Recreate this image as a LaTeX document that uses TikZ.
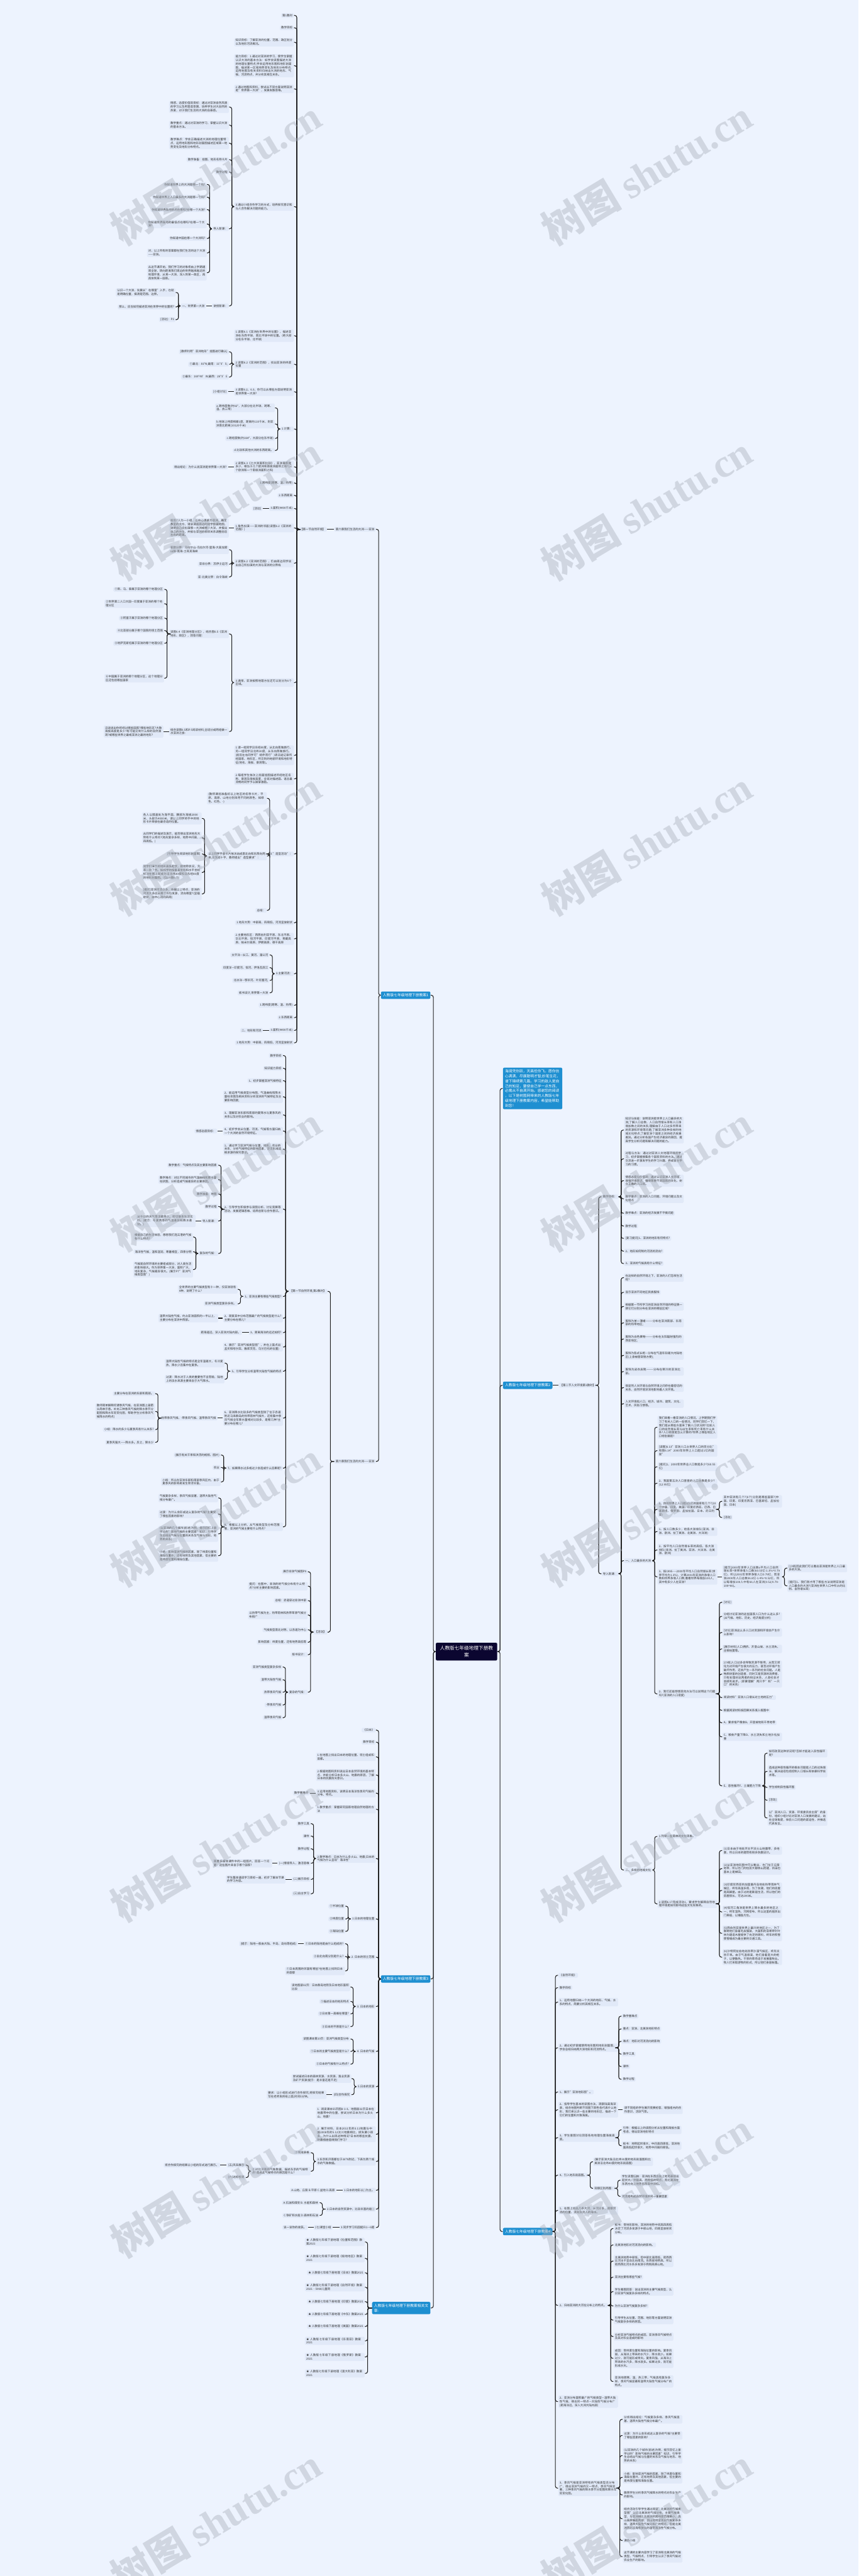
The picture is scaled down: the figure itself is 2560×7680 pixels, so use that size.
\documentclass[tikz,border=0pt]{standalone}
\usepackage{fontspec}
\setmainfont{Noto Sans CJK SC}
\newfontfamily\wmlatin{Liberation Serif}
\XeTeXlinebreaklocale "zh"
\XeTeXlinebreakskip=0pt plus 0.4pt
\definecolor{bgc}{HTML}{EDF3FE}
\definecolor{boxc}{HTML}{E1E9F8}
\definecolor{inkc}{HTML}{333333}
\definecolor{linec}{HTML}{1F1F1F}
\definecolor{bluec}{HTML}{1E8FD1}
\definecolor{navyc}{HTML}{0B0630}
\definecolor{wmc}{HTML}{A9B0BB}
\newcommand\leaffont{\fontsize{2.4pt}{3.12pt}\selectfont}
\newcommand\bluefont{\fontsize{3.07pt}{4.15pt}\selectfont}
\newcommand\rootfont{\fontsize{4.1pt}{5.7pt}\selectfont}

\begin{document}
\begin{tikzpicture}[x=0.1mm,y=-0.1mm,
  leaf/.style={fill=boxc,text=inkc,rounded corners=0.3mm,inner xsep=0.4mm,inner ysep=0.3mm,font=\leaffont,align=left},
  lng/.style={text width=17mm},
  ln/.style={leaf,anchor=east},
  rn/.style={leaf,anchor=west},
  branch/.style={fill=bluec,text=white,rounded corners=0.4mm,inner sep=0.6mm,font=\bluefont,align=left},
  link/.style={draw=linec,line width=0.2mm,rounded corners=0.6mm},
  wm/.style={text=wmc,opacity=0.42,rotate=31,font=\bfseries\fontsize{34pt}{34pt}\selectfont}]
\useasboundingbox (0,0) rectangle (2560,7680);
\fill[bgc] (0,0) rectangle (2560,7680);

% root
\node[fill=navyc,text=white,rounded corners=0.4mm,font=\rootfont,align=center,minimum width=18.3mm,minimum height=5.3mm,inner sep=0.8mm] (root) at (1391,4924) {人教版七年级地理下册教\\案};

% ---------- left side ----------
\node[branch,anchor=east] (k1) at (1284,2967) {人教版七年级地理下册教案1};
\node[branch,anchor=east] (k3) at (1284,5900) {人教版七年级地理下册教案3};
\node[branch,anchor=east] (kr) at (1284,6881) {人教版七年级地理下册教案相关文\\章:};

\node[ln] (c1) at (1121,1578) {第六章我们生活的大洲——亚洲};
\node[ln] (c2) at (1121,4357) {第六章我们生活的大洲——亚洲};
\node[ln] (s1) at (975,1578) {【第一节自然环境】};

\node[ln] (a1) at (877,46) {第1教时};
\node[ln] (a2) at (877,83) {教学目标};
\node[ln,lng] (a3) at (877,126) {知识目标：了解亚洲的位置、范围、政区划分以及地形河流概况。};
\node[ln,lng] (a4) at (877,196) {能力目标：1.通过对亚洲的学习，使学生掌握认识大洲的基本方法：如学会读图描述大洲的地理位置特点;学会运用地形图和地形剖面图，描述某一区域地势变化及地形分布特点;运用地图及有关资料归纳出大洲的地形、气候、河流特点，并分析其相互关系。};
\node[ln,lng] (a5) at (877,265) {2.通过地图和资料，尝试从不同方面说明亚洲是"世界第一大洲"，发展发散思维。};
\node[ln,lng] (a6) at (877,616) {3.通过小组合作学习的方式，培养探究意识和与人合作解决问题的能力。};
\node[ln,lng] (a7) at (877,1001) {1.读图6.1《亚洲在世界中的位置》，描述亚洲在东西半球、南北半球中的位置。(绝大部分在东半球、北半球)};
\node[ln,lng] (a8) at (877,1086) {2.读图6.2《亚洲的范围》，找出亚洲的纬度位置};
\node[ln,lng] (a9) at (877,1168) {3.读图6.2、6.3，你可以从哪些方面说明亚洲是世界第一大洲?};
\node[ln] (a10) at (877,1279) {1.计算：};
\node[ln,lng] (a11) at (877,1392) {2.读图6.3《七大洲面积比较》，亚洲面积是多少，相当于几个欧洲和南极洲面积之和?(三个欧洲和一个南极洲面积之和)};
\node[ln] (a12) at (877,1440) {1.跨纬度(跨寒、温、热带)};
\node[ln] (a13) at (877,1477) {2.东西距离};
\node[ln] (a14) at (877,1516) {3.面积(4400千米)};
\node[ln,lng] (a15) at (877,1574) {1.角色扮演——亚洲的邻居(读图6.2《亚洲的范围》)};
\node[ln,lng] (a16) at (877,1679) {2.读图6.2《亚洲的范围》，仍由周边同学说出自己所扮演的大洲与亚洲的分界线};
\node[ln,lng] (a17) at (877,2035) {3.通常，亚洲按照地理方位还可以划分为6个区域。};
\node[ln,lng] (a18) at (877,2252) {1.请一组同学沿东经80度，从北向南做旅行，另一组同学沿北纬30度，从东向西做旅行。(前后左右同学可"结伴而行")请沿途记录所经国家、地形区，所见到的地貌环境和地形特征(地名、海拔、景观等)。};
\node[ln,lng] (a19) at (877,2322) {2.每组学生依次上前面挂图描述所经地区名称、景观及海拔高度，全班对描述面、语言最流畅的同学予以鼓掌激励。};
\node[ln] (a20) at (877,2546) {3."造型活动"：};
\node[ln] (a21) at (877,2751) {1.地形大势：中部高，四周低，河流呈放射状};
\node[ln,lng] (a22) at (877,2799) {2.主要地形区：西西伯利亚平原、东北平原、华北平原、恒河平原、印度河平原、青藏高原、帕米尔高原、伊朗高原、德干高原};
\node[ln] (a23) at (877,2903) {3.主要河流：};
\node[ln] (a24) at (877,2997) {1.跨纬度(跨寒、温、热带)};
\node[ln] (a25) at (877,3034) {2.东西距离};
\node[ln] (a26) at (877,3072) {3.面积(4400千米)};
\node[ln] (a27) at (877,3109) {1.地形大势：中部高，四周低，河流呈放射状};

\node[ln,lng] (b1) at (683,319) {情感、态度价值观目标：通过对亚洲自然风貌的学习以及用营造氛围，培养学生对大自然的热爱，对于我们生活的大洲的自豪感。};
\node[ln,lng] (b2) at (683,373) {教学重点：通过对亚洲的学习，掌握认识大洲的基本方法。};
\node[ln,lng] (b3) at (683,427) {教学难点：学会正确描述大洲的地理位置特点，运用地形图和地形剖面图描述区域某一地势变化及地形分布特点。};
\node[ln] (b4) at (683,476) {教学准备：挂图、地形名称卡片};
\node[ln] (b5) at (683,513) {教学过程};
\node[ln] (b6) at (683,682) {导入新课：};
\node[ln] (b7) at (683,912) {讲授新课：};

\node[ln] (d1) at (617,550) {你知道世界上的大洲是哪一个吗?};
\node[ln] (d2) at (617,588) {你知道世界上人口最多的大洲是哪一个吗?};
\node[ln] (d3) at (617,625) {你知道世界陆地的点在哪吗?在哪一个大洲?};
\node[ln,lng] (d4) at (617,668) {你知道世界陆地的最低点在哪吗?在哪一个大洲?};
\node[ln] (d5) at (617,711) {你知道中国在哪一个大洲吗?};
\node[ln,lng] (d6) at (617,754) {对，以上所有的答案都在我们生活的这个大洲——亚洲。};
\node[ln,lng] (d7) at (617,813) {从这节课开始，我们学习的对象将由上学期通观全球，转向距离我们周边的世界越来越近的地理环境，从某一大洲，深入到某一政区，再具体到某一国家。};

\node[ln] (e1) at (615,912) {一、世界第一大洲};
\node[ln,lng] (f1) at (524,872) {认识一个大洲，先要从"在哪里"入手，也就是明确位置，搞清楚范围、边界。};
\node[ln] (f2) at (524,915) {那么，应当如何描述亚洲在世界中的位置呢?};
\node[ln] (f3) at (524,953) {[活动]：P3};

\node[ln] (g1) at (683,1049) {[教师利用"亚洲地形"挂图进行确认]};
\node[ln] (g2) at (683,1086) {①最北：81°N;最南：11°3'S;};
\node[ln] (g3) at (683,1124) {②最东：169°40'W;最西：26°3'E};
\node[ln] (g4) at (680,1168) {[小组讨论]};
\node[ln] (g5) at (680,1392) {得出结论：为什么说亚洲是世界第一大洲?};
\node[ln] (g6) at (783,1516) {[活动]};
\node[ln,lng] (g7) at (683,1574) {前后7人为一小组，以中心课桌为亚洲，确定教室的北方，请该课桌周边的同学依据地图，说明自己应扮演哪一大洲或哪一大洋，并报出自己的方位，并按与亚洲的相邻关系调整前后左右的距离。};
\node[ln,lng] (g8) at (683,1639) {亚欧分界：乌拉尔山-乌拉尔河-里海-大高加索山脉-黑海-土耳其海峡};
\node[ln] (g9) at (683,1682) {亚非分界：苏伊士运河};
\node[ln] (g10) at (683,1720) {亚-北美分界：白令海峡};

\node[ln,lng] (h1) at (820,1216) {a.跨纬度数(约92°，大部分在北半球，跨寒、温、热三带)};
\node[ln,lng] (h2) at (820,1264) {b.地球上纬度相差1度，距离约110千米，则亚洲南北距离(10120千米)};
\node[ln] (h3) at (820,1307) {c.跨经度数(约164°，大部分在东半球)};
\node[ln] (h4) at (820,1343) {d.比较和其他大洲的东西距离。};

\node[ln,lng] (i1) at (683,1890) {读图6.4《亚洲地理分区》，结合图6.5《亚洲地形、政区》，回答问题：};
\node[ln,lng] (i2) at (683,2181) {结合读图6.5和P.5阅读材料,全班分成两组做一次亚洲之旅：};
\node[ln] (j1) at (490,1757) {①新、马、泰属于亚洲的哪个地理分区};
\node[ln,lng] (j2) at (490,1800) {②世界第二人口大国—印度属于亚洲的哪个地理分区};
\node[ln] (j3) at (490,1843) {③阿富汗属于亚洲的哪个地理分区};
\node[ln] (j4) at (490,1880) {④北亚部分属于哪个国家的领土范围};
\node[ln] (j5) at (490,1918) {⑤哈萨克斯坦属于亚洲的哪个地理分区};
\node[ln,lng] (j6) at (490,2022) {⑥中国属于亚洲的哪个地理分区，这个地理分区还包括哪些国家};
\node[ln,lng] (j7) at (488,2181) {沿途说出你将经过哪些国家?哪些地形区?大致海拔高度是多少?有可能见到什么样的自然景观?或哪些世界之最或亚洲之最的地形?};

\node[ln,lng] (l1) at (796,2380) {(教师课前准备好以上地区的名称卡片，平原、高原、山地分别采用不同的颜色，如绿色、红色、-)};
\node[ln,lng] (l2) at (796,2552) {以上同学手拿卡片依次站成南北向和东西向两排,交叉成十字，教师提出"造型要求"：};
\node[ln] (l3) at (796,2714) {总结：};
\node[ln,lng] (m1) at (602,2440) {各人以膝盖处为海平面，腰部为海拔2000米，头部为4000米，请以上同学将手中的地形卡片举放在最合适的位置。};
\node[ln,lng] (m2) at (602,2498) {从同学们的描述及演示，能否得出亚洲地形大势有什么特点?(地形复杂多样，地势中间高，四周低。)};
\node[ln] (m3) at (602,2546) {[引导学生阅读地形剖面图]};
\node[ln,lng] (m4) at (602,2601) {同学们演示的地形高低起伏，即地势状况，大家一目了然。如和学的按垂直坐标和水平坐标标注在图上就成为沿北纬30度和沿东经80度的地形剖面图。(见p.6图6.7)};
\node[ln,lng] (m5) at (602,2665) {[提问]亚洲河流众多，依据以上特点，亚洲的河流大多应从哪个方位发源，流向哪里?(呈辐射状，由中心流向四周)};

\node[ln] (n1) at (804,2847) {太平洋—长江、黄河、湄公河};
\node[ln] (n2) at (804,2885) {印度洋—印度河、恒河、伊洛瓦底江};
\node[ln] (n3) at (804,2923) {北冰洋—鄂毕河、叶尼塞河,};
\node[ln] (n4) at (804,2960) {板书设计,世界第一大洲};
\node[ln] (n5) at (784,3072) {二、地形和河流};

% second chapter node
\node[ln] (s2) at (977,3850) {【第一节自然环境,第2教时】};
\node[ln] (s3) at (977,4866) {【活动】};

\node[ln] (p1) at (844,3147) {教学目标};
\node[ln] (p2) at (844,3185) {知识能力目标};
\node[ln] (p3) at (844,3222) {1、初步掌握亚洲气候特征};
\node[ln,lng] (p4) at (844,3270) {2、能运用气候类型分布图，气温曲线和降水量柱状图及相关资料分析亚洲的气候特征及主要影响因素;};
\node[ln,lng] (p5) at (844,3324) {3、理解亚洲东部和南部的夏降水与夏季风的关系以及对农业的影响。};
\node[ln,lng] (p6) at (844,3372) {4、初步学会从位置、河流、气候等方面归纳一个大洲的自然环境特征。};
\node[ln,lng] (p7) at (844,3426) {1、通过学习亚洲气候与位置、地形、农业的关系，分析气候特征的影响因素，足见形成追根求源的探究意识。};
\node[ln,lng] (p8) at (844,3605) {2、引导学生积极参与读图分析、讨论竞赛等活动，发展逻辑思维、培养创新与合作意识。};
\node[ln] (p9) at (844,3865) {1、亚洲主要有哪些气候类型?};
\node[ln,lng] (p10) at (844,3930) {2、观察其中分布范围最广的气候类型是什么?主要分布在哪儿?};
\node[ln] (p11) at (844,3973) {3、距离海洋的远近如何?};
\node[ln,lng] (p12) at (844,4016) {4、展示"亚洲气候类型图"，并在上面点出孟买和哈尔宾、雅库茨克、乌兰巴托的位置)};
\node[ln] (p13) at (844,4088) {5、引导学生分析温带大陆性气候的特点};
\node[ln,lng] (p14) at (844,4228) {6、亚洲降水比较多的气候类型除了位于赤道附近马来群岛的热带雨林气候外，还有集中季风气候全年降水量相对比较多，是哪几种?主要分布在哪儿?};
\node[ln] (p15) at (844,4377) {7、如果降水过多或过少会造成什么后果呢?};
\node[ln,lng] (p16) at (844,4552) {8、根据以上分析，从气候类型及分布范围看，亚洲的气候主要有什么特点?};

\node[ln] (q1) at (648,3372) {情感态度目标：};
\node[ln] (q2) at (651,3474) {教学重点：气候特点及其主要影响因素};
\node[ln,lng] (q3) at (651,3517) {教学难点：对比不同城市的气温曲线和降水量柱状图，分析造成气候差异的主要原因。};
\node[ln] (q4) at (651,3560) {教学准备：地图};
\node[ln] (q5) at (651,3597) {教学过程};
\node[ln] (q6) at (651,3640) {导入新课：};
\node[ln] (q7) at (651,3737) {复杂的气候：};
\node[ln,lng] (q8) at (584,3640) {从今日的天气等话题导入，密切联系生活实际。(提示：冬夏两季的气温差异和降水差别。)};
\node[ln,lng] (q9) at (576,3688) {根据自己的生活体验，想想我们连云港的气候有什么特点?};
\node[ln] (q10) at (576,3732) {海洋性气候，温和湿润，寒暑相宜，四季分明};
\node[ln,lng] (q11) at (576,3785) {气候是自然环境的主要组成部分，对人类生活的影响很大。作为世界第一大洲，面积广大，地形复杂，气候差异很大。(展示P7"亚洲气候类型图")};

\node[ln,lng] (r1) at (709,3844) {全世界的主要气候类型有十一种，仅亚洲就有9种，说明了什么?};
\node[ln] (r2) at (709,3887) {亚洲气候类型复杂多样。};
\node[ln,lng] (r3) at (651,3930) {温带大陆性气候，约占亚洲面积的一半以上，主要分布在亚洲中西部。};
\node[ln] (r4) at (722,3973) {距海遥远，深入亚洲大陆内部。};
\node[ln,lng] (r5) at (670,4064) {温带大陆性气候的特点是全年温差大，冬冷夏热，降水少且集中在夏季。};
\node[ln,lng] (r6) at (670,4112) {过渡：降水对于人类的重要性不言而喻，陆地上的淡水来源主要来自于大气降水。};
\node[ln] (r7) at (649,4228) {热带季风气候、-带季风气候、温带季风气候};
\node[ln] (r8) at (463,4155) {主要分布在亚洲的东部和南部。};
\node[ln,lng] (r9) at (463,4208) {教师简单解释何谓季风气候，在亚洲图上画箭头简单示意。补充三种季风气候的降水季节分配图和降水年际变化图，帮助学生分析季风气候降水的特点)};
\node[ln] (r10) at (463,4262) {小结：降水的多少与夏季风有什么关系?};
\node[ln] (r11) at (463,4300) {夏季风强大——降水多。反之，降水少};
\node[ln] (r12) at (659,4338) {(展示有关干旱和洪涝的视频、图片)};
\node[ln] (r13) at (659,4375) {农业};
\node[ln,lng] (r14) at (659,4418) {小结：所以在亚洲东部和南部季风区内，由于夏季风的影响易发生旱涝灾害。};
\node[ln,lng] (r15) at (651,4466) {气候复杂多样，季风气候显著，温带大陆性气候分布最广。};
\node[ln,lng] (r16) at (651,4514) {过渡：为什么会形成这么复杂的气候?主要受了哪些因素的影响?};
\node[ln,lng] (r17) at (651,4573) {(以亚洲的几个城市(前述)为例，提示回忆上册学过的"影响气候的主要因素"知识，引导学生总结出气候与位置的关系及气候与地形、地势的关系)};
\node[ln,lng] (r18) at (651,4638) {小结：影响亚洲气候的因素，除了纬度位置和海陆位置外，还有地势及其他因素，但主要的是纬度位置和海陆位置。};

\node[ln] (t1) at (918,4686) {展示非洲气候图P9};
\node[ln,lng] (t2) at (918,4729) {提问：在图中，非洲的的气候分布有什么特点?分析主要的影响因素。};
\node[ln] (t3) at (918,4772) {总结：赤道穿过非洲中部};
\node[ln,lng] (t4) at (918,4815) {以热带气候为主，热带雨林和热带草原气候分布很广};
\node[ln] (t5) at (918,4859) {气候类型南北对称，以赤道为中心};
\node[ln] (t6) at (918,4896) {影响因素：纬度位置，还有地势高低等};
\node[ln] (t7) at (918,4933) {板书设计：};
\node[ln] (t8) at (918,5045) {复杂的气候：};
\node[ln] (u1) at (843,4970) {亚洲气候类型复杂多样};
\node[ln] (u2) at (843,5008) {温带大陆性气候};
\node[ln] (u3) at (843,5045) {热带季风气候};
\node[ln] (u4) at (843,5083) {-带季风气候};
\node[ln] (u5) at (843,5121) {温带季风气候};

% third branch
\node[ln] (v1) at (1121,5158) {《日本》};
\node[ln] (v2) at (1121,5194) {教学目标};
\node[ln,lng] (v3) at (1121,5238) {1.在地图上找出日本的地理位置、领土组成和首都。};
\node[ln,lng] (v4) at (1121,5292) {2.根据地图和资料说出日本自然环境的基本特点，并能分析日本多火山、地震的原因，了解日本的抗震防灾意识。};
\node[ln,lng] (v5) at (1121,5346) {3.运用地图资料，说明日本海洋性季风气候的分布、特点。};
\node[ln,lng] (v6) at (1121,5394) {1.教学重点：掌握研究国家地理自然地理的方法};
\node[ln,lng] (v7) at (1121,5541) {2.教学难点：日本为什么多火山、地震;日本的气候为什么呈现"海洋性"};
\node[ln] (v8) at (1121,5721) {1.日本的地理位置};
\node[ln] (v9) at (1121,5835) {2. 日本的领土范围};
\node[ln] (v10) at (1121,5982) {3. 日本的地形};
\node[ln] (v11) at (1121,6116) {4. 日本的气候};
\node[ln] (v12) at (1121,6221) {5.日本的资源};
\node[ln,lng] (v13) at (1121,6299) {1. 阅读课本55页图8-1-3、地图册32页日本在地震带中的位置，尝试分析日本为什么多火山、地震?};
\node[ln,lng] (v14) at (1121,6363) {2. 展示材料，日本2011年的3.11地震与中国2008年的5.12汶川地震相比，损失要小很多，为什么出现这种情况?日本的哪些抗震、防震措施值得我们学习?};
\node[ln,lng] (v15) at (1121,6444) {3.东京和济南都位于36°N附近，下表为两个城市的气象数据。};
\node[ln] (v16) at (1121,6530) {1.日本的地形以( )为主。};
\node[ln] (v17) at (1121,6586) {2.日本的自然资源中，比较丰富的是( )};
\node[ln] (v18) at (1121,6641) {3.同步学习巩固提升1—6题};

\node[ln] (w1) at (924,5346) {教学重难点};
\node[ln] (w2) at (927,5437) {教学工具};
\node[ln] (w3) at (927,5474) {课件};
\node[ln] (w4) at (927,5512) {教学过程};
\node[ln] (w5) at (927,5555) {(一)情境导入，激活思维};
\node[ln] (w6) at (927,5603) {(二)展示目标};
\node[ln] (w7) at (927,5646) {(三)自主学习};
\node[ln,lng] (w8) at (812,5555) {观看多媒体课件中的一组图片，回答一个问题：这些图片来自于哪个国家?};
\node[ln,lng] (w9) at (852,5603) {学生集体诵读学习目标一遍，初步了解本节课的学习内容。};

\node[ln] (x1) at (1030,5683) {①半球位置};
\node[ln] (x2) at (1030,5721) {②纬度位置};
\node[ln] (x3) at (1030,5758) {③海陆位置};
\node[ln] (x4) at (1029,5795) {①日本的陆地是由什么组成的?};
\node[ln] (x5) at (1029,5833) {②自北向南分别是什么?};
\node[ln,lng] (x6) at (1029,5876) {①日本周围的邻国有哪些?在地图上找到日本的首都};
\node[ln] (x7) at (888,5795) {(提示：陆地一般由大陆、半岛、岛屿等组成)};
\node[ln,lng] (x8) at (1045,5924) {读地图册32页：日本群岛地势及日本地形面积比较};
\node[ln] (x9) at (1045,5967) {①描述日本的地形特点};
\node[ln] (x10) at (1045,6004) {②日本第一高峰在哪里?};
\node[ln] (x11) at (1045,6042) {③日本的平原是什么?};
\node[ln] (x12) at (1045,6079) {读图课本第10页：亚洲气候类型分布};
\node[ln] (x13) at (1045,6116) {①日本的主要气候类型是什么?};
\node[ln] (x14) at (1045,6154) {②日本的气候有什么特点?};
\node[ln,lng] (x15) at (1048,6197) {尝试描述日本的森林资源、水资源、渔业资源及矿产资源(提示：是丰富还是不足)};
\node[ln] (x16) at (1048,6245) {(四)合作探究};
\node[ln,lng] (x17) at (974,6245) {要求：以小组形式进行合作探究;将探究结果写在老师发的纸上面;时间5分钟。};

\node[ln] (y1) at (927,6418) {①完成表格};
\node[ln,lng] (y2) at (927,6473) {②对比济南的气象数据，描述东京的气候特点?造成此气候特点的原因是什么?};
\node[ln] (y3) at (733,6455) {(五)风采展示};
\node[ln] (y4) at (733,6492) {(六)达标检测};
\node[ln] (y5) at (657,6455) {将合作探究的结果以小组的形式进行展示。};
\node[ln] (y6) at (1003,6530) {A.山地、丘陵 B.平原 C.盆地 D.高原};
\node[ln] (y7) at (953,6567) {A.石油和煤炭 B. 水能和森林};
\node[ln] (y8) at (953,6605) {C.铁矿和水能 D.森林和石油};
\node[ln] (y9) at (992,6641) {(七)课堂小结};
\node[ln] (y10) at (918,6641) {谈一谈你的收获。};

\node[ln,lng] (z1) at (1088,6684) {★ 人教版七年级下册地理《位置和范围》教案2021};
\node[ln,lng] (z2) at (1088,6733) {★ 人教版七年级下册地理《极地地区》教案2021};
\node[ln] (z3) at (1088,6776) {★ 人教版七年级下册地理《日本》教案2021};
\node[ln,lng] (z4) at (1088,6819) {★ 人教版七年级下册地理《自然环境》教案2021 - 5068儿童网};
\node[ln] (z5) at (1088,6862) {★ 人教版七年级下册地理《印度》教案2021};
\node[ln] (z6) at (1088,6900) {★ 人教版七年级下册地理《中东》教案2021};
\node[ln] (z7) at (1088,6936) {★ 人教版七年级下册地理《美国》教案2021};
\node[ln,lng] (z8) at (1088,6979) {★ 人教版七年级下册地理《东南亚》教案2021};
\node[ln,lng] (z9) at (1088,7027) {★ 人教版七年级下册地理《俄罗斯》教案2021};
\node[ln,lng] (z10) at (1088,7076) {★ 人教版七年级下册地理《澳大利亚》教案2021};

% ---------- right side ----------
\node[branch,anchor=west] (bl) at (1499,3245) {海阔凭你跃，天高任你飞。愿你信\\心满满，尽展聪明才智;妙笔生花，\\谱下锦绣第几篇。学习的敌人是自\\己的知足，要使自己学一点东西，\\必需从不自满开始。感谢您的阅读\\，以下是树图网带来的人教版七年\\级地理下册教案内容，希望能帮助\\到您！};
\node[branch,anchor=west] (k2) at (1499,4130) {人教版七年级地理下册教案2};
\node[branch,anchor=west] (k4) at (1499,6653) {人教版七年级地理下册教案4};

\node[rn] (S4) at (1665,4130) {【第二节人文环境第1教时】};
\node[rn] (P1) at (1793,3568) {教学目标：};
\node[rn] (P2) at (1793,4692) {导入新课：};
\node[rn,lng] (Q1) at (1860,3369) {知识与技能：说明亚洲是世界上人口最多的大洲;了解人口总数、人口自然增长率和人口净增加数之间的关系;理解由于人口过多所带来的资源和环境等问题;了解亚洲多种多样的地域文化特点;了解亚洲个国家之间的经济发展差异。通过分析各国产生经济差异的原因，提高学生分析问题和解决问题的能力。};
\node[rn,lng] (Q2) at (1860,3455) {过程与方法：通过对亚洲人文地理环境的学习，初步掌握搜集各个国家资料的方法。通过交流进一步激发学生的学习兴趣，养成自主学习的习惯。};
\node[rn,lng] (Q3) at (1860,3520) {情感态度与价值观：通过认识亚洲人文环境，增强环境意识，懂得尊重不同国家的文化，树立正确的人口观。};
\node[rn,lng] (Q4) at (1860,3574) {教学重点：亚洲的人口问题、环境问题以及文化特点};
\node[rn] (Q5) at (1860,3617) {教学难点：亚洲的经济发展不平衡问题};
\node[rn] (Q6) at (1860,3655) {教学过程};
\node[rn] (Q7) at (1860,3692) {[复习提问]1、亚洲的地形有何特点?};
\node[rn] (Q8) at (1860,3730) {2、地形如何制约河流的流向?};
\node[rn] (Q9) at (1860,3767) {3、亚洲的气候具有什么特征?};

\node[rn,lng] (R1) at (1860,3809) {在这样的自然环境之下，亚洲的人们怎样生活呢?};
\node[rn] (R2) at (1860,3853) {显示亚洲不同地区民族服饰};
\node[rn,lng] (R3) at (1860,3895) {根据第一节所学习的亚洲自然环境的特征猜一猜它们分别分布在亚洲的哪些区域?};
\node[rn,lng] (R4) at (1860,3944) {服饰为单一薄裙———分布在亚洲南部、东南部的热带地区;};
\node[rn,lng] (R5) at (1860,3992) {服饰为白色裹物———分布在太阳辐射强烈的西亚地区;};
\node[rn,lng] (R6) at (1860,4041) {服饰为各式长袍—分布在气温年较差大内陆地区(上身袖管穿脱方便);};
\node[rn,lng] (R7) at (1860,4089) {服饰为皮衣皮靴———分布在寒冷的亚洲北部。};
\node[rn,lng] (R8) at (1860,4137) {很显然人文环境与自然环境之间存在着密切的关系，自然环境深深地影响着人文环境。};
\node[rn,lng] (R9) at (1860,4185) {人文环境指人口、经济、城市、建筑、文化、艺术、风俗习惯等。};
\node[rn] (R10) at (1860,4653) {一、人口最多的大洲};
\node[rn] (R11) at (1860,5575) {二、多样的地域文化};

\node[rn,lng] (T1) at (1960,4255) {我们来看一看亚洲的人口情况，上学期我们学习了有关人口的一些情况，同学们回忆一下，我们是从哪些方面来了解人口状况的?比如人口的自然增长率与出生率和死亡率有什么关系?人口密度是怎么计算的?世界上哪些地区人口特别稠密?};
\node[rn,lng] (T2) at (1960,4325) {[读图]6.13"亚洲人口占世界人口的百分比"和图6.14"2000年世界上人口超过1亿的国家"};
\node[rn,lng] (T3) at (1960,4373) {[提问]1、2000年世界总人口数是多少?(60.55亿)};
\node[rn,lng] (T4) at (1960,4422) {2、我国第五次人口普查的人口总数是多少?(12.95亿)};
\node[rn,lng] (T5) at (1960,4500) {3、目前世界上人口超过1亿的国家有几个?(10个中国、印度、美国、印度尼西亚、巴西、巴基斯坦、俄罗斯、孟加拉国、日本、尼日利亚)};
\node[rn,lng] (T6) at (1960,4566) {1、按人口数多少，给各大洲排队(亚洲、非洲、欧洲、拉丁美洲、北美洲、大洋洲)};
\node[rn,lng] (T7) at (1960,4621) {2、按平均人口自然增长率的高低，各大洲排队(非洲、拉丁美洲、亚洲、大洋洲、北美洲、欧洲)};
\node[rn,lng] (T8) at (1960,4701) {3、按1995-{}-{}-{}-2000年平均人口自然增长率(世界平均为1.3\%)，计算2001年亚洲的净增人口数和世界净增人口数;看看世界每增加100人，其中有多少人在亚洲?};
\node[rn,lng] (T9) at (1960,5050) {2、我们还能想想其他方法可以说明这个问题吗?(亚洲的人口密度)};

\node[rn,lng] (U1) at (2153,4476) {其中亚洲有几个?(6个)分别是哪些国家?(中国、印度、印度尼西亚、巴基斯坦、孟加拉国、日本)};
\node[rn] (U2) at (2153,4524) {[活动]};
\node[rn,lng] (U3) at (2153,4701) {[提示]2000年世界人口总数x平均人口自然增长率=世界净增人口数(60.55亿-1.3\%=0.79亿)，所以2001年世界净增人口0.79亿，而亚洲2000年人口总数36.8亿-1.4\%=0.52亿，所以每增加100人中有66人在亚洲(0.52/0.79-100=66)。};
\node[rn,lng] (U4) at (2347,4675) {[小结]因此我们可以看出亚洲是世界上人口最多的大洲。};
\node[rn,lng] (U5) at (2347,4728) {[提问]1、我们刚才用了哪些方法说明亚洲是人口最多的大洲?(亚洲在世界人口中所占的比例、自然增长率)};

\node[rn] (V1) at (2153,4777) {[讨论]};
\node[rn,lng] (V2) at (2153,4819) {分组讨论亚洲的这些国家人口为什么这么多?(从气候、地形、历史、经济角度分析)};
\node[rn,lng] (V3) at (2153,4867) {[讨论]亚洲这么多人口对资源和环境会产生什么影响?};
\node[rn,lng] (V4) at (2153,4916) {[展示材料]人口拥挤、开垦山坡、水土流失、庄稼枯萎等。};
\node[rn,lng] (V5) at (2153,4991) {[小结]人口过多会导致资源不够用，从而又转化为对环境产生很大的压力，甚至对环境产生破坏作用，还会产生一系列的社会问题。人是物质财富的创造者，同时又是资源的消费者，只有处理好这两者的辩证关系，人类社会才会顺利进步。(即要理解"两只手"和"一只口"的关系)};
\node[rn] (V6) at (2153,5061) {阅读材料"亚洲人口增长对土地的压力"};
\node[rn] (V7) at (2153,5099) {根据阅读材料按因果关系填入框图中};
\node[rn] (V8) at (2153,5136) {A、要求增产粮食B、开垦坡地和干旱地带};
\node[rn,lng] (V9) at (2153,5178) {C、粮食产量下降D、水土流失和土地沙化加重};
\node[rn] (V10) at (2153,5324) {E、恶性循环F、土壤肥力下降};
\node[rn,lng] (W1) at (2288,5227) {如何改变这种状况呢?怎样才能进入良性循环呢?};
\node[rn,lng] (W2) at (2288,5281) {造成这种恶性循环的根本问题是人口的过快增长，解决途径包括控制人口增长和依靠科学技术等。};
\node[rn] (W3) at (2288,5329) {学生绘制良性循环图};
\node[rn] (W4) at (2288,5367) {[活动]};
\node[rn,lng] (W5) at (2288,5420) {以"亚洲人口、资源、环境委员会主席"的身份，组织小组讨论对亚洲人口发展的建议，站在全球角度，体验人口问题的紧迫性，并推选代表发言。};

\node[rn] (X1) at (1960,5475) {1.列举一些简单的文化现象。};
\node[rn,lng] (X2) at (1960,5676) {2.读图6.17完成活动1，要求学生解释自然地理环境是如何影响这些文化现象的。};
\node[rn,lng] (X3) at (2153,5517) {(1)日本由于地处环太平洋火山地震带，多地震，所以日本的建筑有很多防震设计。};
\node[rn,lng] (X4) at (2153,5571) {(2)从亚洲地形图中可以看出，也门位于丘陵地带，所以也门的住房大都依山而建，农田也基本上是梯田。};
\node[rn,lng] (X5) at (2153,5636) {(3)印度尼西亚的加里曼丹岛地处热带雨林气候区，终年高温多雨，为了防潮，他们的房屋是高脚屋。由于过的是聚居生活，所以他们的房屋很长，可达200米。};
\node[rn,lng] (X6) at (2153,5700) {(4)恒河三角洲是世界上降水最多的地区之一，终年湿热，河网密布，所以这里的居民出门乘船，以捕鱼为生。};
\node[rn,lng] (X7) at (2153,5764) {(5)西伯利亚是世界上最冷的地区之一，为了御寒他们身着毛皮服装，大面积的亚寒带针叶林为建造木屋提供了充足的原料，终年的积雪使雪橇成为最主要的交通工具。};
\node[rn,lng] (X8) at (2153,5835) {(6)沙特阿拉伯地处热带沙漠气候区，终年炎热干旱。由于气温很高，他们身着宽大的袍子，以便散热。干旱的草场适于发展畜牧业。牧人们采取游牧的形式，所以他们身居帐篷。};

\node[rn] (Y1) at (1664,5889) {《自然环境》};
\node[rn] (Y2) at (1664,5926) {教学目标};
\node[rn,lng] (Y3) at (1664,5969) {1、运用地图归纳一个大洲的地形、气候、水系的特点，简要分析其相互关系。};
\node[rn,lng] (Y4) at (1664,6105) {2、通过初步掌握使用地形图和地形剖面图，学会总结归纳两大洲地形和河流特点。};
\node[rn] (Y5) at (1664,6237) {1、展示"亚洲地形图"。};
\node[rn,lng] (Y6) at (1664,6290) {2、指导学生基本的读图方法，观察陆高海深表，结合地图判断不同图下颜色各代表什么地形，我们来认识一些主要的地形区，描述一下它们的位置和大致海拔。};
\node[rn,lng] (Y7) at (1664,6373) {3、学生查图讨论回答各地地理位置海拔高度。};
\node[rn] (Y8) at (1664,6485) {4、引入地形剖面图。};
\node[rn,lng] (Y9) at (1664,6590) {1、在图上找出几条大河，长河众多，观察河流的位置、流向及流入的海洋。};
\node[rn] (Y10) at (1664,6873) {2、归纳亚洲的大河在分布上的特点。};
\node[rn,lng] (Y11) at (1664,7160) {2、亚洲分布面积最广的气候类型—温带大陆性气候，得出另一特点—大陆性气候分布广(距海洋远，深入大洲大陆内部)};
\node[rn,lng] (Y12) at (1664,7418) {3、季风气候是亚洲特有的气候类型且分布广，得出亚洲气候的又一特点，季风气候显著，三种季风气候的降水季节分配图和降水年际变化图。};

\node[rn] (Z1) at (1853,6011) {教学重难点};
\node[rn] (Z2) at (1853,6049) {重点：亚洲、北美洲地形特点};
\node[rn] (Z3) at (1853,6086) {难点：地形对河流流向的影响};
\node[rn] (Z4) at (1853,6124) {教学工具};
\node[rn] (Z5) at (1853,6161) {课件};
\node[rn] (Z6) at (1853,6199) {教学过程};
\node[rn,lng] (Z7) at (1857,6290) {请不同组的学生展开竞赛抢答，增强组内的合作意识，活跃气氛。};
\node[rn,lng] (Z8) at (1853,6350) {引导：根据以上的读图分析从位置和海拔方面考虑，得出亚洲地形特点};
\node[rn,lng] (Z9) at (1853,6397) {板书：地势起伏很大，中间高四周低，亚洲地面高低起伏很大，地势中间高四周低。};
\node[rn,lng] (Z10) at (1768,6445) {(展示亚洲大陆沿北纬30度的地形剖面图和北美洲沿北纬40度的地形剖面图)};
\node[rn] (Z11) at (1768,6524) {观察区别两图：};
\node[rn,lng] (Z12) at (1850,6500) {学生读图归纳：亚洲在东西方向上地势表现出起伏大，中部高，两侧低的特点，而北美洲在东西方向上地势东西高中间低。};
\node[rn] (Z13) at (1850,6548) {河流是构成自然环境的另一重要因素};

\node[rn,lng] (G1) at (1829,6644) {板书：受地形影响，亚洲的地势中间高四周低决定了河流多发源于中部山地，四周呈放射状分布。};
\node[rn] (G2) at (1829,6693) {北美洲地形对河流流向的影响。};
\node[rn,lng] (G3) at (1829,6741) {北美洲地势中部低，但中部北高南低，密西西比河主干呈自北向南流。东西部地势高，所以密西西比河水系多发源于两侧高原山地。};
\node[rn] (G4) at (1829,6789) {亚洲主要有哪些气候?};
\node[rn,lng] (G5) at (1829,6832) {学生看图回答：说出亚洲的主要气候类型，认识亚洲气候复杂多样的特点。};
\node[rn] (G6) at (1829,6875) {为什么亚洲气候复杂多样?};
\node[rn,lng] (G7) at (1829,6917) {引导学生从位置、范围、地形等方面说明亚洲气候复杂多样的原因。};
\node[rn,lng] (G8) at (1829,6966) {分析亚洲气候特点的成因，亚洲季风气候特点及其对农业造成的影响};
\node[rn,lng] (G9) at (1829,7031) {成因：受纬度位置和海陆位置的影响。夏季风弱，从海洋上带来的水汽少，降水就少。如果过少，就可能形成旱灾。夏季风强，从海洋上带来的水汽多，降水就多。如果过多，就可能形成水灾。};
\node[rn,lng] (G10) at (1829,7100) {亚洲地跨寒、温、热三带，气候具有复杂多样、季风气候显著和温带大陆性气候分布广的特点。};

\node[rn,lng] (H1) at (1856,7213) {分析得出结论：气候复杂多样、季风气候显著、温带大陆性气候分布最广。};
\node[rn,lng] (H2) at (1856,7261) {过渡：为什么会形成这么复杂的气候?主要受了哪些因素的影响?};
\node[rn,lng] (H3) at (1856,7321) {(以亚洲的几个城市(前述)为例，提示回忆上册学过的"影响气候的主要因素"知识，引导学生总结出气候与位置的关系及气候与地形、地势的关系)};
\node[rn,lng] (H4) at (1856,7386) {小结：影响亚洲气候的因素，除了纬度位置和海陆位置外，还有地势及其他因素，但主要的是纬度位置和海陆位置。};
\node[rn,lng] (H5) at (1856,7438) {教育学生分析季风气候降水的特点对农业生产的影响。};
\node[rn,lng] (H6) at (1856,7509) {结合活动引导学生通过阅读"北美洲的气候类型图"认识北美洲的气候分布，主要气候类型，与亚洲相比北美洲所跨纬度范围略小，高山高原偏居两部，因山地地呈现出气候复杂多样，温带大陆性气候分布广的特点，但是北美洲西北沿海有狭长的温带海洋性气候分布。};
\node[rn] (H7) at (1856,7574) {课后小结};
\node[rn,lng] (H8) at (1856,7622) {这节课的主要内容学习了亚洲和北美洲的气候类型，气候特点，引导学生认识了季风气候对农业生产的影响。};

% ---------- connectors ----------
% left brackets
\foreach \p/\c in {root/k1,root/k3,root/kr,k1/c1,k1/c2,%
  s1/a1,s1/a2,s1/a3,s1/a4,s1/a5,s1/a6,s1/a7,s1/a8,s1/a9,s1/a10,s1/a11,s1/a12,s1/a13,s1/a14,%
  s1/a15,s1/a16,s1/a17,s1/a18,s1/a19,s1/a20,s1/a21,s1/a22,s1/a23,s1/a24,s1/a25,s1/a26,s1/a27,%
  a6/b1,a6/b2,a6/b3,a6/b4,a6/b5,a6/b6,a6/b7,%
  b6/d1,b6/d2,b6/d3,b6/d4,b6/d5,b6/d6,b6/d7,e1/f1,e1/f2,e1/f3,%
  a8/g1,a8/g2,a8/g3,a10/h1,a10/h2,a10/h3,a10/h4,a16/g8,a16/g9,a16/g10,%
  a17/i1,a17/i2,i1/j1,i1/j2,i1/j3,i1/j4,i1/j5,i1/j6,%
  a20/l1,a20/l2,a20/l3,l2/m1,l2/m2,l2/m3,l2/m4,l2/m5,a23/n1,a23/n2,a23/n3,a23/n4,%
  c2/s2,c2/s3,%
  s2/p1,s2/p2,s2/p3,s2/p4,s2/p5,s2/p6,s2/p7,s2/p8,s2/p9,s2/p10,s2/p11,s2/p12,s2/p13,s2/p14,s2/p15,s2/p16,%
  p8/q2,p8/q3,p8/q4,p8/q5,p8/q6,p8/q7,q7/q9,q7/q10,q7/q11,p9/r1,p9/r2,p13/r5,p13/r6,%
  r7/r8,r7/r9,r7/r10,r7/r11,p15/r12,p15/r13,p15/r14,p16/r15,p16/r16,p16/r17,p16/r18,%
  s3/t1,s3/t2,s3/t3,s3/t4,s3/t5,s3/t6,s3/t7,s3/t8,t8/u1,t8/u2,t8/u3,t8/u4,t8/u5,%
  k3/v1,k3/v2,k3/v3,k3/v4,k3/v5,k3/v6,k3/v7,k3/v8,k3/v9,k3/v10,k3/v11,k3/v12,k3/v13,%
  k3/v14,k3/v15,k3/v16,k3/v17,k3/v18,%
  v7/w2,v7/w3,v7/w4,v7/w5,v7/w6,v7/w7,v8/x1,v8/x2,v8/x3,v9/x4,v9/x5,v9/x6,%
  v10/x8,v10/x9,v10/x10,v10/x11,v11/x12,v11/x13,v11/x14,v12/x15,v12/x16,%
  v15/y1,v15/y2,y2/y3,y2/y4,v17/y7,v17/y8,%
  kr/z1,kr/z2,kr/z3,kr/z4,kr/z5,kr/z6,kr/z7,kr/z8,kr/z9,kr/z10}
  \draw[link] (\c.east) -- ++(8,0) |- (\p.west);
% left single children
\foreach \p/\c in {c1/s1,b7/e1,a9/g4,a11/g5,a14/g6,a15/g7,i2/j7,a26/n5,p6/q1,q6/q8,%
  p10/r3,p11/r4,p14/r7,v5/w1,w5/w8,w6/w9,x4/x7,x16/x17,y3/y5,v16/y6,v18/y9,y9/y10}
  \draw[link] (\c.east) -- (\p.west);
% right brackets
\foreach \p/\c in {root/bl,root/k2,root/k4,S4/P1,S4/P2,%
  P1/Q1,P1/Q2,P1/Q3,P1/Q4,P1/Q5,P1/Q6,P1/Q7,P1/Q8,P1/Q9,%
  P2/R1,P2/R2,P2/R3,P2/R4,P2/R5,P2/R6,P2/R7,P2/R8,P2/R9,P2/R10,P2/R11,%
  R10/T1,R10/T2,R10/T3,R10/T4,R10/T5,R10/T6,R10/T7,R10/T8,R10/T9,%
  T5/U1,T5/U2,U3/U4,U3/U5,%
  T9/V1,T9/V2,T9/V3,T9/V4,T9/V5,T9/V6,T9/V7,T9/V8,T9/V9,T9/V10,%
  V10/W1,V10/W2,V10/W3,V10/W4,V10/W5,%
  R11/X1,R11/X2,X2/X3,X2/X4,X2/X5,X2/X6,X2/X7,X2/X8,%
  k4/Y1,k4/Y2,k4/Y3,k4/Y4,k4/Y5,k4/Y6,k4/Y7,k4/Y8,k4/Y9,k4/Y10,k4/Y11,k4/Y12,%
  Y4/Z1,Y4/Z2,Y4/Z3,Y4/Z4,Y4/Z5,Y4/Z6,Y7/Z8,Y7/Z9,Y8/Z10,Y8/Z11,Z11/Z12,Z11/Z13,%
  Y10/G1,Y10/G2,Y10/G3,Y10/G4,Y10/G5,Y10/G6,Y10/G7,Y10/G8,Y10/G9,Y10/G10,%
  Y12/H1,Y12/H2,Y12/H3,Y12/H4,Y12/H5,Y12/H6,Y12/H7,Y12/H8}
  \draw[link] (\c.west) -- ++(-8,0) |- (\p.east);
% right single children
\foreach \p/\c in {k2/S4,T8/U3,Y6/Z7}
  \draw[link] (\c.west) -- (\p.east);

% watermark
\foreach \y in {514,1514,2514,3514,4514,5514,6514,7514}{
  \node[wm] at (644,\y) {树图 {\wmlatin\bfseries shutu.cn}};
  \node[wm] at (1928,\y) {树图 {\wmlatin\bfseries shutu.cn}};
}
\end{tikzpicture}
\end{document}
